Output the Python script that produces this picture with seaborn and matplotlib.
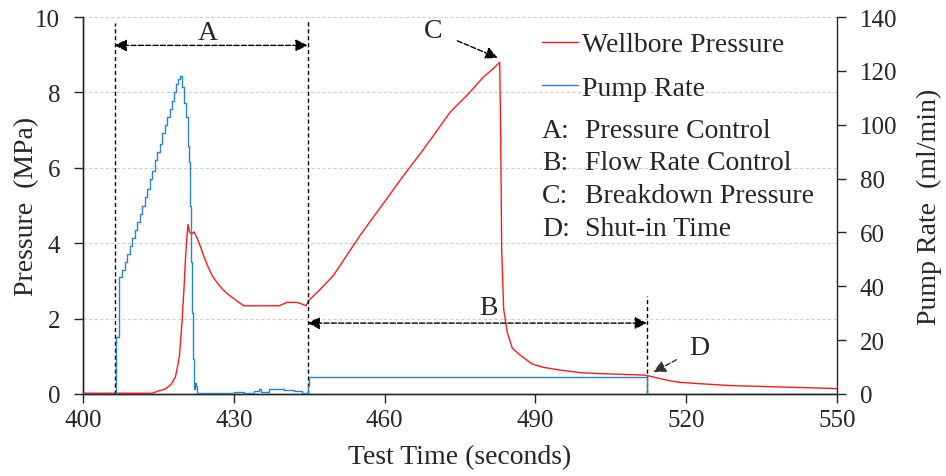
import numpy as np
import pandas as pd
import seaborn as sns
import matplotlib.pyplot as plt
from matplotlib.lines import Line2D

# wellbore pressure (MPa)
pressure_time = [400, 413.8, 415.0, 416.4, 417.5, 418.4, 419.2, 419.7, 420.1, 420.4,
                 420.7, 420.9, 421.2, 421.6, 422.1, 422.8, 423.4, 424.0, 424.8, 425.7,
                 426.7, 427.7, 428.7, 429.7, 430.8, 432.0, 439.0, 440.6, 442.5, 443.3,
                 444.4, 444.9, 447.0, 449.8, 452.5, 455.1, 457.8, 460.4, 462.7, 465.0,
                 467.4, 469.7, 471.4, 473.0, 474.7, 476.3, 478.0, 479.6, 481.5, 482.9,
                 483.1, 483.3, 483.7, 484.4, 485.4, 486.7, 489.3, 491.5, 494.6, 499.3,
                 505.0, 511.8, 513.8, 516.0, 518.5, 523.0, 529.1, 535.0, 540.0, 548.3,
                 550.0]
pressure_mpa = [0.02, 0.02, 0.08, 0.13, 0.25, 0.45, 1.0, 1.9, 2.8, 3.6,
                4.2, 4.5, 4.3, 4.24, 4.3, 4.11, 3.9, 3.67, 3.4, 3.14,
                2.95, 2.79, 2.66, 2.56, 2.45, 2.34, 2.34, 2.43, 2.43, 2.40,
                2.34, 2.48, 2.75, 3.14, 3.68, 4.2, 4.7, 5.17, 5.6, 6.01,
                6.43, 6.85, 7.17, 7.47, 7.70, 7.91, 8.16, 8.4, 8.62, 8.8,
                7.0, 3.85, 2.25, 1.64, 1.22, 1.06, 0.80, 0.71, 0.64, 0.56,
                0.53, 0.50, 0.44, 0.37, 0.31, 0.27, 0.22, 0.20, 0.18, 0.15,
                0.14]

# pump rate (ml/min)
pump_time = [400, 406.6, 407.2, 407.8, 408.3, 408.8, 409.3, 409.8, 410.3, 410.8,
             411.3, 411.8, 412.3, 412.8, 413.3, 413.8, 414.3, 414.8, 415.3, 415.8,
             416.3, 416.8, 417.3, 417.8, 418.2, 418.6, 419.0, 419.4, 419.8, 420.2,
             420.5, 420.8, 421.0, 421.2, 421.4, 421.6, 421.8, 422.0, 422.2, 422.4,
             422.6, 425.0, 428.0, 430.0, 432.0, 434.0, 435.0, 435.5, 437.0, 440.0,
             442.0, 443.5, 444.6, 444.8, 445.0, 512.1, 512.3, 550.0]
pump_rate = [0, 21, 43.5, 46, 49, 52, 55, 58, 61, 64,
             67, 70, 73, 76, 80, 83, 87, 90, 93, 97,
             100, 103, 106, 109, 112, 115, 117, 118, 114, 108,
             103, 92, 86, 70, 49, 30, 13, 2, 4, 3,
             0.5, 0.3, 0.5, 0.8, 0.5, 1.2, 2.0, 0.8, 1.8, 1.5,
             1.0, 0.2, 0.2, 3, 6.2, 6.2, 0, 0]

legend_labels = ['Wellbore Pressure', 'Pump Rate']
phase_letters = ['A:', 'B:', 'C:', 'D:']
phase_names = ['Pressure Control', 'Flow Rate Control', 'Breakdown Pressure', 'Shut-in Time']

df_p = pd.DataFrame({'Time': pressure_time, 'Pressure': pressure_mpa})
df_q = pd.DataFrame({'Time': pump_time, 'Rate': pump_rate})

sns.set_style('ticks')
plt.rcParams['font.family'] = ['Liberation Serif', 'DejaVu Serif']

fig = plt.figure(figsize=(9.46, 4.77), dpi=100)
ax = fig.add_axes([0.0877, 0.172, 0.797, 0.79])
ax2 = ax.twinx()

red = '#FF1A1A'
blue = '#2B83C9'

sns.lineplot(data=df_p, x='Time', y='Pressure', ax=ax, color=red, lw=1.0,
             estimator=None, sort=False, zorder=4)
sns.lineplot(data=df_q, x='Time', y='Rate', ax=ax2, color=blue, lw=1.0,
             estimator=None, sort=False, drawstyle='steps-post', zorder=3)

ax.set_xlim(400, 550)
ax.set_ylim(0, 10)
ax2.set_ylim(0, 140)
ax.set_xticks(np.arange(400, 551, 30))
ax.set_yticks(np.arange(0, 11, 2))
ax2.set_yticks(np.arange(0, 141, 20))

ax.yaxis.grid(True, color='#d0d0d0', ls=(0, (3, 2)), lw=0.8)
ax.set_axisbelow(True)

for a in (ax, ax2):
    a.tick_params(axis='y', direction='out', length=6.5, width=1, labelsize=18, pad=10)
    a.spines['top'].set_visible(False)
    for s in a.spines.values():
        s.set_linewidth(1)
ax.tick_params(axis='x', direction='out', length=6.5, width=1, labelsize=18, pad=4)
ax.spines['right'].set_visible(False)

ax.set_xlabel('Test Time (seconds)', fontsize=20)
ax.set_ylabel('Pressure  (MPa)', fontsize=20)
ax2.set_ylabel('Pump Rate  (ml/min)', fontsize=20)
ax.xaxis.set_label_coords(0.5, -0.167)
ax.yaxis.set_label_coords(-0.075, 0.5)
ax2.yaxis.set_label_coords(1.123, 0.5)
for lab in (ax.xaxis.label, ax.yaxis.label, ax2.yaxis.label):
    lab.set_verticalalignment('center')
    lab.set_horizontalalignment('center')

# phase markers
dash = (0, (3, 2))
ax.plot([406.3, 406.3], [0, 9.85], color='k', lw=1, ls=dash, zorder=5)
ax.plot([444.7, 444.7], [0, 9.9], color='k', lw=1, ls=dash, zorder=5)
ax.plot([512.2, 512.2], [0, 2.6], color='k', lw=1, ls=dash, zorder=5)

arrow = dict(arrowstyle='<|-|>', color='k', lw=1, ls='--', mutation_scale=18,
             shrinkA=0, shrinkB=0)
ax.annotate('', xy=(444.7, 9.25), xytext=(406.3, 9.25), arrowprops=arrow, zorder=6)
ax.annotate('', xy=(512.2, 1.88), xytext=(444.7, 1.88), arrowprops=arrow, zorder=6)
ax.text(424.9, 9.6, 'A', fontsize=20, ha='center', va='center')
ax.text(480.6, 2.3, 'B', fontsize=20, ha='center', va='center')

one_arrow = dict(arrowstyle='-|>', color='k', lw=1, ls='--', mutation_scale=18,
                 shrinkA=0, shrinkB=0)
ax.annotate('C', xy=(482.5, 8.92), xytext=(469.7, 9.64), fontsize=20,
            ha='center', va='center', arrowprops=dict(one_arrow, shrinkA=9))
ax.annotate('D', xy=(513.5, 0.58), xytext=(522.7, 1.24), fontsize=20,
            ha='center', va='center', arrowprops=dict(one_arrow, shrinkA=8, color='#333333'))

# legend
handles = [Line2D([], [], color=red, lw=1), Line2D([], [], color=blue, lw=1)]
ax2.legend(handles, legend_labels, loc='upper left', bbox_to_anchor=(0.609, 0.961),
           frameon=False, fontsize=20, handlelength=1.3, handletextpad=0.15,
           labelspacing=0.65, borderpad=0, borderaxespad=0)

ypos = [0.698, 0.613, 0.526, 0.438]
for letter, name, yy in zip(phase_letters, phase_names, ypos):
    ax2.text(0.609, yy, letter, transform=ax2.transAxes, fontsize=20, va='center')
    ax2.text(0.666, yy, name, transform=ax2.transAxes, fontsize=20, va='center')

fig.savefig('out.png', dpi=100)
plt.close(fig)
